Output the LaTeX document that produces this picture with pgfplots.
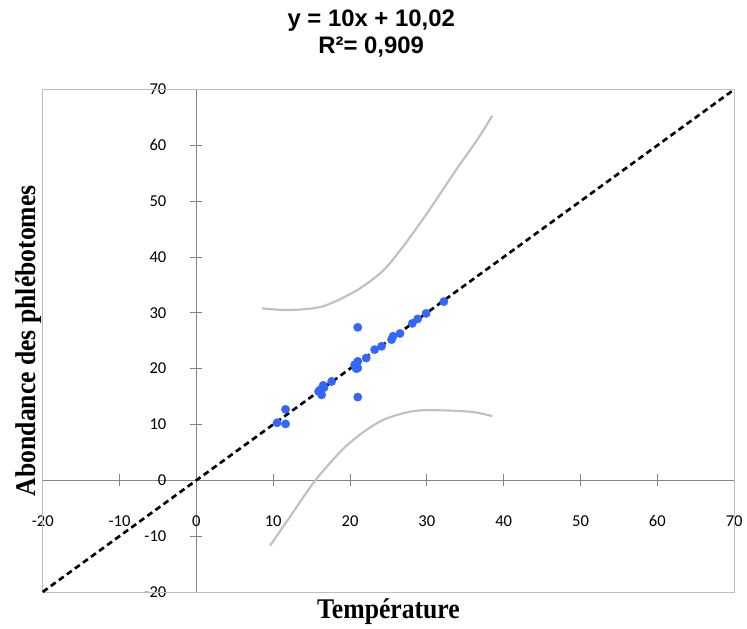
\documentclass[border=0pt]{standalone}
\usepackage{fontspec}
\usepackage{pgfplots}
\pgfplotsset{compat=1.18}
\newfontfamily\titlefont{Liberation Sans}
\newfontfamily\labelfont[FakeStretch=0.9]{Liberation Serif}
\newfontfamily\tickfont{Carlito}
\definecolor{ptblue}{RGB}{51,102,255}
\definecolor{bandgray}{RGB}{192,192,192}
\definecolor{axgray}{RGB}{134,134,134}
\definecolor{boxgray}{RGB}{190,190,190}
\begin{document}
\begin{tikzpicture}[x=0.75pt,y=0.75pt]
\begin{axis}[
  scale only axis,
  width=521.25pt, height=378.75pt,
  xmin=-20, xmax=70, ymin=-20, ymax=70,
  axis lines=middle,
  hide obscured x ticks=false, hide obscured y ticks=false,
  axis line style={-, axgray, line width=0.6pt},
  xtick={-20,-10,...,70}, ytick={-20,-10,...,70},
  major tick length=9pt, tick align=center,
  tick style={axgray, line width=0.6pt},
  /pgf/number format/assume math mode=true,
  tick label style={font=\tickfont\fontsize{12.5}{14}\selectfont, black},
  xticklabel style={anchor=center, yshift=-26pt},
  yticklabel style={anchor=east, inner sep=0pt, xshift=-18pt},
  title={y = 10x + 10,02\\R²= 0,909},
  title style={font=\titlefont\bfseries\fontsize{18}{20.5}\selectfont, align=center,
    at={(rel axis cs:0.475,1)}, anchor=south, inner sep=0pt, yshift=18pt},
  xlabel={Température},
  ylabel={Abondance des phlébotomes},
  every axis x label/.style={at={(rel axis cs:0.5,0)}, anchor=north, inner sep=0pt, yshift=-5pt,
    font=\labelfont\bfseries\fontsize{21.5}{24}\selectfont},
  every axis y label/.style={at={(rel axis cs:0,0.5)}, anchor=south, rotate=90, inner sep=0pt, yshift=1pt,
    font=\labelfont\bfseries\fontsize{21.5}{24}\selectfont},
  clip=false,
]
\draw[boxgray, line width=0.6pt] (rel axis cs:0,0) rectangle (rel axis cs:1,1);
% upper confidence band
\addplot[bandgray, line width=1.6pt, smooth, no markers] coordinates {
  (8.5,30.8) (12.0,30.5) (16.3,31.1) (20.6,33.8) (24.1,37.3) (26.7,41.5)
  (30.1,48.0) (33.6,55.2) (36.6,61.1) (38.5,65.3)
};
% lower confidence band
\addplot[bandgray, line width=1.6pt, smooth, no markers] coordinates {
  (9.6,-11.7) (12.4,-6.1) (15.6,0.2) (19.7,6.4) (24.0,10.6) (28.3,12.4)
  (32.7,12.5) (36.1,12.2) (38.5,11.5)
};
% observations
\addplot[only marks, mark=*, mark size=3.1pt, ptblue, mark options={draw=ptblue, fill=ptblue}] coordinates {
  (21.0,27.4) (21.0,14.9) (32.2,32.0) (29.9,29.9) (28.8,28.9) (28.1,28.1)
  (26.5,26.3) (25.6,25.8) (25.4,25.2) (24.1,24.0) (23.2,23.4) (22.1,21.9)
  (21.0,21.3) (20.6,20.7) (21.0,20.1) (20.8,20.0) (17.6,17.7) (16.5,17.0)
  (16.6,16.6) (16.1,16.2) (16.3,15.3) (15.9,15.9) (11.6,12.7) (10.5,10.3)
  (11.6,10.1)
};
% fitted line
\addplot[black, line width=2pt, dash pattern=on 4.5pt off 3pt, no markers] coordinates {
  (-20,-20) (70,70)
};
\end{axis}
\path ([shift={(-32.25pt,-27.75pt)}]current axis.south west) rectangle ([shift={(6.75pt,67.5pt)}]current axis.north east);
\end{tikzpicture}
\end{document}
